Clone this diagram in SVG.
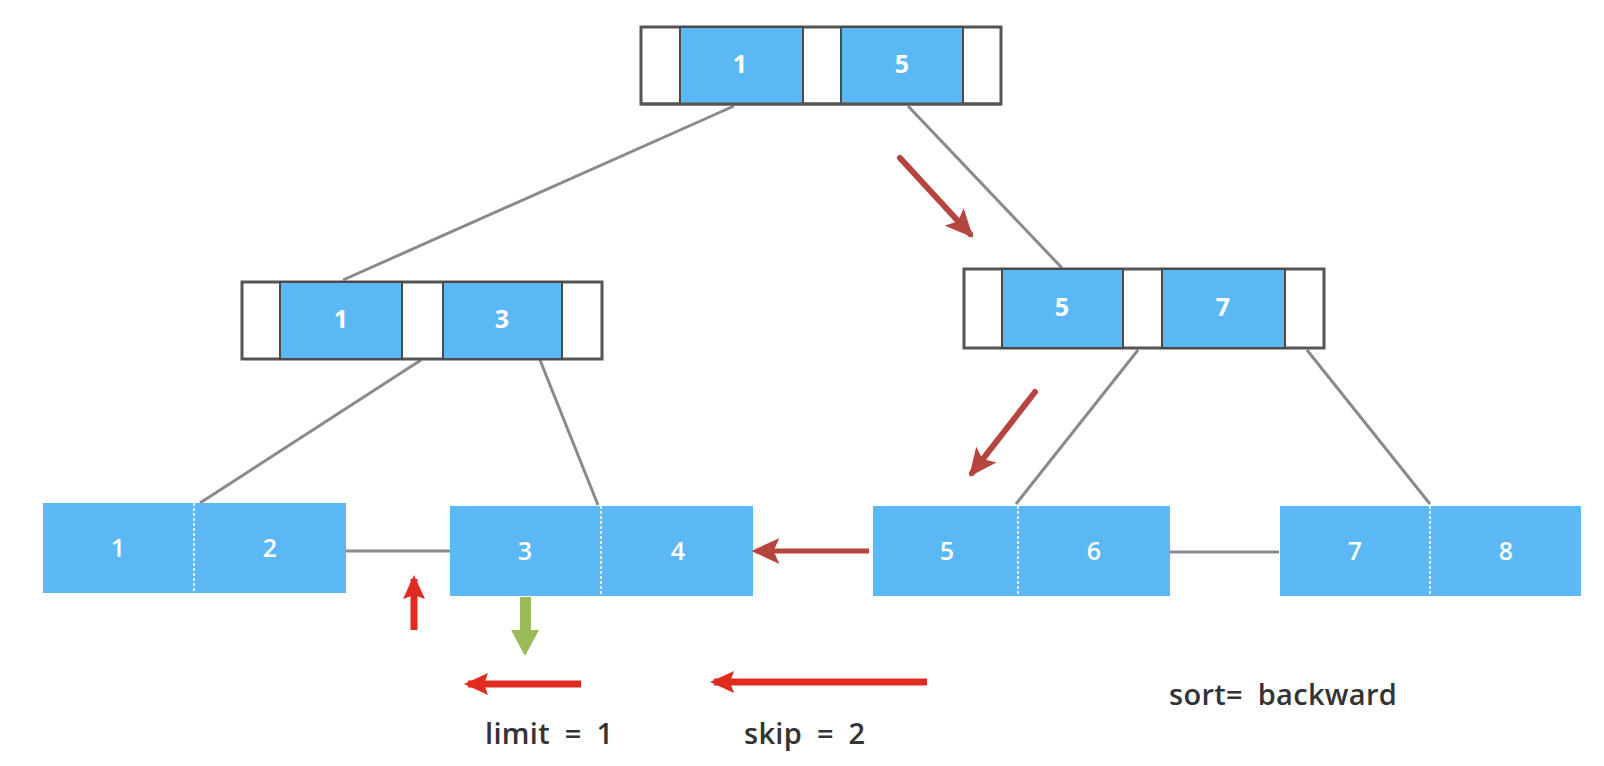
<svg xmlns="http://www.w3.org/2000/svg" width="1604" height="766" viewBox="0 0 1604 766">
<style>
.frame{fill:#ffffff;stroke:#555555;stroke-width:3}
.key{fill:#5bb8f5;stroke:#4a4a4a;stroke-width:2}
.leaf{fill:#5bb8f5}
.div{stroke:#e8f4fd;stroke-width:2;stroke-dasharray:3 2}
.num{font-family:"Open Sans","Noto Sans",sans-serif;font-weight:700;font-size:25px;fill:#ffffff;text-anchor:middle}
.lnum{font-family:"Open Sans","Noto Sans",sans-serif;font-weight:600;font-size:25px;fill:#ffffff;text-anchor:middle}
.edge{stroke:#8a8a8a;stroke-width:3;fill:none}
.lbl{font-family:"Open Sans","Noto Sans",sans-serif;font-weight:600;font-size:29px;fill:#333333;word-spacing:7px;letter-spacing:0.3px}
</style>
<defs>
<marker id="hb" markerUnits="userSpaceOnUse" markerWidth="28" markerHeight="26" refX="20" refY="11" orient="auto" viewBox="0 0 24 22">
<path d="M0,0 L24,11 L0,22 L5,11 z" fill="#b5453e"/>
</marker>
<marker id="hr" markerUnits="userSpaceOnUse" markerWidth="26" markerHeight="22" refX="20" refY="11" orient="auto" viewBox="0 0 24 22">
<path d="M0,0 L24,11 L0,22 L4,11 z" fill="#e02b20"/>
</marker>
</defs>
<g id="connectors">
<line class="edge" x1="734" y1="106" x2="343" y2="280"/>
<line class="edge" x1="908" y1="106" x2="1062" y2="268"/>
<line class="edge" x1="421" y1="360" x2="200" y2="503"/>
<line class="edge" x1="540" y1="360" x2="598" y2="505"/>
<line class="edge" x1="1138" y1="350" x2="1016" y2="504"/>
<line class="edge" x1="1307" y1="350" x2="1430" y2="504"/>
<line class="edge" x1="346" y1="551" x2="450" y2="551"/>
<line class="edge" x1="1170" y1="552" x2="1279" y2="552"/>
</g>
<g id="root">
<rect class="frame" x="641" y="27" width="360" height="77"/>
<rect class="key" x="680" y="27" width="123" height="77"/>
<rect class="key" x="841" y="27" width="122" height="77"/>
<line x1="641" y1="104" x2="1001" y2="104" stroke="#555" stroke-width="3"/>
<text class="num" x="740" y="73">1</text>
<text class="num" x="902" y="73">5</text>
</g>
<g id="inner-left">
<rect class="frame" x="242" y="282" width="360" height="77"/>
<rect class="key" x="280" y="282" width="122" height="77"/>
<rect class="key" x="443" y="282" width="119" height="77"/>
<text class="num" x="341" y="328">1</text>
<text class="num" x="502" y="328">3</text>
</g>
<g id="inner-right">
<rect class="frame" x="964" y="269" width="360" height="79"/>
<rect class="key" x="1002" y="269" width="121" height="79"/>
<rect class="key" x="1162" y="269" width="123" height="79"/>
<text class="num" x="1062" y="316">5</text>
<text class="num" x="1223" y="316">7</text>
</g>
<g id="leaf-12">
<rect class="leaf" x="43" y="503" width="303" height="90"/>
<line class="div" x1="194" y1="503" x2="194" y2="593"/>
<text class="lnum" x="118" y="557">1</text>
<text class="lnum" x="270" y="557">2</text>
</g>
<g id="leaf-34">
<rect class="leaf" x="450" y="506" width="303" height="90"/>
<line class="div" x1="601" y1="506" x2="601" y2="596"/>
<text class="lnum" x="525" y="560">3</text>
<text class="lnum" x="678" y="560">4</text>
</g>
<g id="leaf-56">
<rect class="leaf" x="873" y="506" width="297" height="90"/>
<line class="div" x1="1018" y1="506" x2="1018" y2="596"/>
<text class="lnum" x="947" y="560">5</text>
<text class="lnum" x="1094" y="560">6</text>
</g>
<g id="leaf-78">
<rect class="leaf" x="1280" y="506" width="301" height="90"/>
<line class="div" x1="1430" y1="506" x2="1430" y2="596"/>
<text class="lnum" x="1355" y="560">7</text>
<text class="lnum" x="1506" y="560">8</text>
</g>
<g id="arrows">
<line x1="900" y1="158" x2="970" y2="234" stroke="#b5453e" stroke-width="6" stroke-linecap="round" marker-end="url(#hb)"/>
<line x1="1035" y1="392" x2="972" y2="473" stroke="#b5453e" stroke-width="6" stroke-linecap="round" marker-end="url(#hb)"/>
<line x1="869" y1="551" x2="756" y2="551" stroke="#b5453e" stroke-width="5" marker-end="url(#hb)"/>
<line x1="414" y1="630" x2="414" y2="579" stroke="#e02b20" stroke-width="7" marker-end="url(#hr)"/>
<polygon points="520,597 531,597 531,630 539,630 525,656 511,630 520,630" fill="#9bbb59"/>
<line x1="581" y1="684" x2="468" y2="684" stroke="#e02b20" stroke-width="7" marker-end="url(#hr)"/>
<line x1="927" y1="682" x2="714" y2="682" stroke="#e02b20" stroke-width="7" marker-end="url(#hr)"/>
</g>
<g id="labels">
<text class="lbl" x="485" y="744">limit = 1</text>
<text class="lbl" x="744" y="744">skip = 2</text>
<text class="lbl" x="1169" y="705">sort= backward</text>
</g>
</svg>
